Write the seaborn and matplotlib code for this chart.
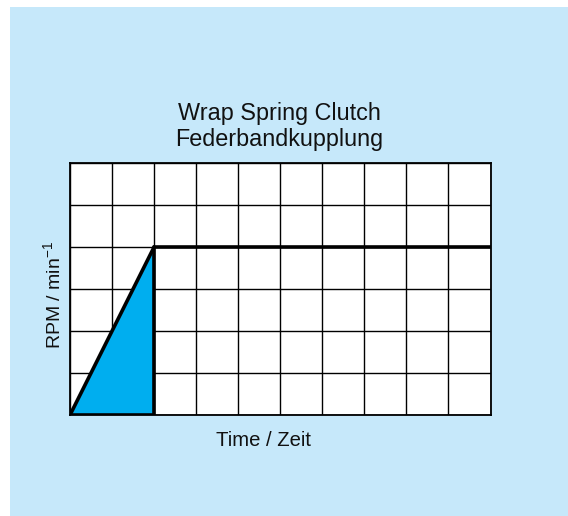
import matplotlib
matplotlib.use("Agg")
import matplotlib.pyplot as plt
import seaborn as sns
import pandas as pd
from matplotlib.patches import Rectangle

# Data
time = [0, 2, 10]
rpm = [0, 4, 4]
ramp_time = [0, 2]
ramp_rpm = [0, 4]
x_ticks = list(range(0, 11))
y_ticks = list(range(0, 7))
title_lines = ["Wrap Spring Clutch", "Federbandkupplung"]
x_label = "Time / Zeit"
y_label = "RPM / min$^{-1}$"

sns.set_theme(style="white")
plt.rcParams['font.family'] = ['Liberation Sans', 'DejaVu Sans']
plt.rcParams['mathtext.default'] = 'regular'

W, H = 568, 516
fig = plt.figure(figsize=(W / 100, H / 100), dpi=100, facecolor="white")
bg = "#c6e8fa"
fig.patches.append(Rectangle((10 / W, 0), 1 - 10 / W, (H - 7) / H,
                             transform=fig.transFigure, facecolor=bg,
                             edgecolor="none", zorder=-10))

left, right, top, bottom = 70, 490.5, 163, 415
ax = fig.add_axes([left / W, (H - bottom) / H, (right - left) / W, (bottom - top) / H])
ax.set_zorder(5)
ax.set_facecolor("white")

df = pd.DataFrame({"time": time, "rpm": rpm})
ramp = pd.DataFrame({"time": ramp_time, "rpm": ramp_rpm})

ax.fill_between(ramp["time"], 0, ramp["rpm"], facecolor="#00aeef",
                edgecolor="none", zorder=2)
sns.lineplot(data=df, x="time", y="rpm", ax=ax, color="black", lw=2.6,
             zorder=4, solid_joinstyle="miter")
# outline of the ramp area: bottom and vertical edge
ax.plot([ramp_time[0], ramp_time[-1], ramp_time[-1]],
        [0, 0, ramp_rpm[-1]], color="black", lw=2.6, zorder=4,
        solid_joinstyle="miter")

ax.set_xlim(x_ticks[0], x_ticks[-1])
ax.set_ylim(y_ticks[0], y_ticks[-1])
ax.set_xticks(x_ticks)
ax.set_yticks(y_ticks)
ax.set_xticklabels([])
ax.set_yticklabels([])
ax.tick_params(length=0)
ax.grid(True, color="black", lw=1.0, zorder=1)
ax.set_axisbelow(True)
for s in ax.spines.values():
    s.set_color("black")
    s.set_linewidth(1.3)
    s.set_visible(True)
ax.set_xlabel("")
ax.set_ylabel("")

fig.text(279 / W, (H - 120) / H, title_lines[0], ha="center", va="baseline",
         fontsize=16.8, color="#111111")
fig.text(279 / W, (H - 146) / H, title_lines[1], ha="center", va="baseline",
         fontsize=16.8, color="#111111")
fig.text(264 / W, (H - 446) / H, x_label, ha="center", va="baseline",
         fontsize=14.6, color="#111111")
fig.text(53 / W, (H - 295) / H, y_label, ha="center", va="center",
         rotation=90, fontsize=14, color="#111111")

fig.savefig("out.png", dpi=100, facecolor="white")
